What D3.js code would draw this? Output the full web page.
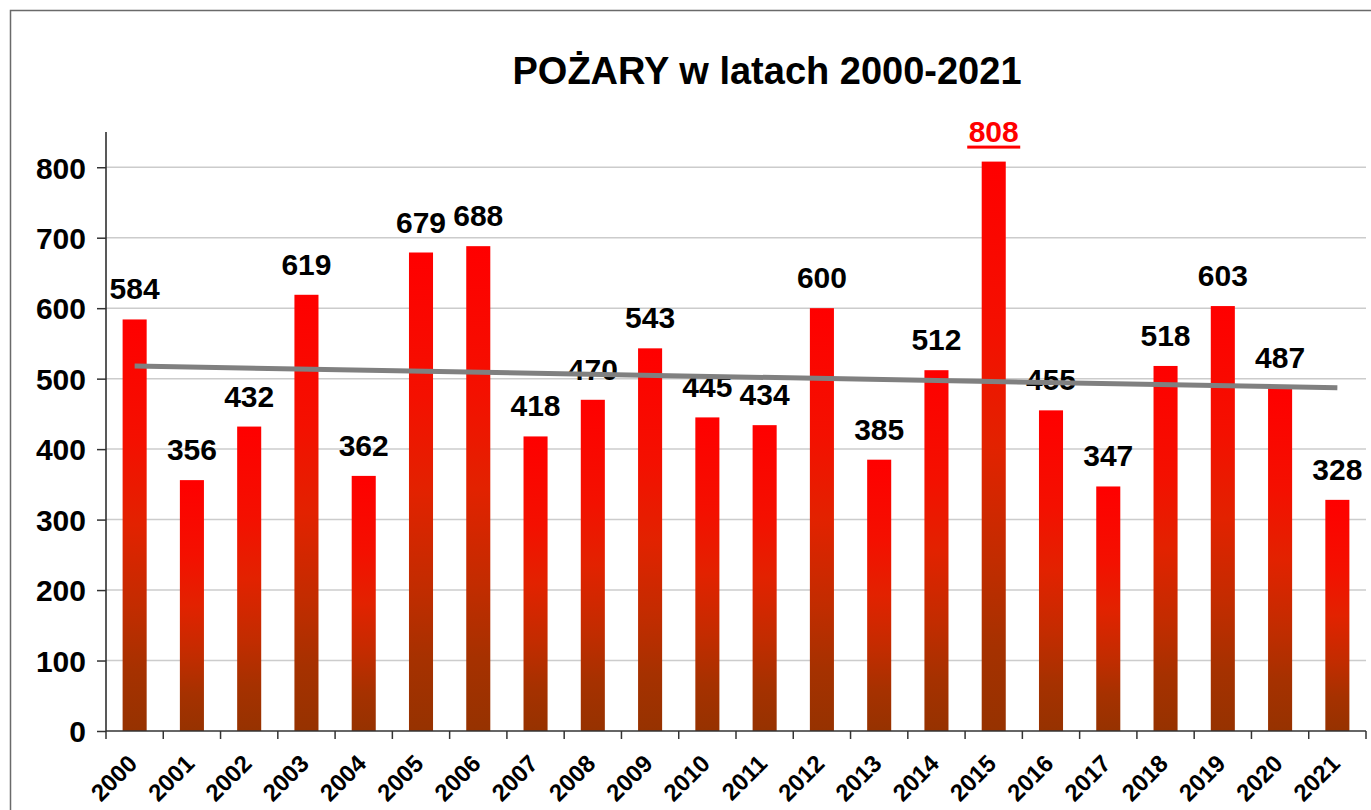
<!DOCTYPE html>
<html><head><meta charset="utf-8">
<script src="https://cdn.jsdelivr.net/npm/d3@7"></script>
<style>
html,body{margin:0;padding:0;background:#fff;}
svg{display:block;font-family:"Liberation Sans",Arial,sans-serif;}
</style></head>
<body>
<svg id="chart" width="1371" height="810"></svg>
<script>
const title = "POŻARY w latach 2000-2021";
const years = ["2000","2001","2002","2003","2004","2005","2006","2007","2008","2009","2010","2011","2012","2013","2014","2015","2016","2017","2018","2019","2020","2021"];
const fires = [584,356,432,619,362,679,688,418,470,543,445,434,600,385,512,808,455,347,518,603,487,328];
const yTicks = [0,100,200,300,400,500,600,700,800];
const yMax = 850;
const highlightYear = "2015";
const trendValues = [518, 487]; // trend line at first and last year

(function(){
const svg = d3.select("#chart");
const pLeft = 106, pRight = 1366, pTop = 132, pBottom = 731;

// frame
svg.append("rect").attr("x",10.5).attr("y",10.5).attr("width",1400).attr("height",900)
  .attr("fill","none").attr("stroke","#6a6a6a").attr("stroke-width",1.5);

const x = d3.scaleBand().domain(years).range([pLeft,pRight]).paddingInner(0.58).paddingOuter(0.29);
const y = d3.scaleLinear().domain([0,yMax]).range([pBottom,pTop]);

const defs = svg.append("defs");
const grad = defs.append("linearGradient").attr("id","barGrad").attr("x1",0).attr("y1",0).attr("x2",0).attr("y2",1);
[["0%","#ff0000"],["30%","#f41000"],["50%","#e22200"],["70%","#c22c00"],["85%","#a63100"],["100%","#963200"]]
  .forEach(s=>grad.append("stop").attr("offset",s[0]).attr("stop-color",s[1]));

// gridlines
svg.append("g").selectAll("line").data(yTicks.filter(t=>t>0)).join("line")
  .attr("x1",pLeft).attr("x2",pRight).attr("y1",d=>y(d)).attr("y2",d=>y(d))
  .attr("stroke","#cccccc").attr("stroke-width",1.5);

// bars
svg.append("g").selectAll("rect").data(fires).join("rect")
  .attr("x",(d,i)=>x(years[i])).attr("width",x.bandwidth())
  .attr("y",d=>y(d)).attr("height",d=>y(0)-y(d))
  .attr("fill","url(#barGrad)");

// y axis
const yAxis = d3.axisLeft(y).tickValues(yTicks).tickSize(9).tickPadding(11);
const gy = svg.append("g").attr("transform",`translate(${pLeft},0)`).call(yAxis);
gy.select(".domain").attr("stroke","#222").attr("stroke-width",1.5).attr("d",`M0,${pTop}V${pBottom}`);
gy.selectAll(".tick line").attr("stroke","#333").attr("stroke-width",1.5);
gy.selectAll(".tick text").attr("font-size",30).attr("font-weight","bold").attr("fill","#000")
  .attr("font-family","'Liberation Sans',Arial,sans-serif").attr("dy","0.36em");

// x axis (ticks between categories)
const step = x.step();
const gx = svg.append("g");
gx.append("line").attr("x1",pLeft).attr("x2",pRight).attr("y1",pBottom).attr("y2",pBottom)
  .attr("stroke","#333").attr("stroke-width",1.5);
gx.selectAll("line.tk").data(d3.range(years.length+1)).join("line").attr("class","tk")
  .attr("x1",i=>pLeft+i*step).attr("x2",i=>pLeft+i*step).attr("y1",pBottom).attr("y2",pBottom+8)
  .attr("stroke","#333").attr("stroke-width",1.5);
gx.selectAll("text").data(years).join("text")
  .attr("transform",d=>`translate(${x(d)+x.bandwidth()/2+4},${pBottom+34}) rotate(-45)`)
  .attr("text-anchor","end").attr("font-size",24).attr("font-weight","bold").attr("fill","#000")
  .text(d=>d);

// value labels
const labels = svg.append("g");
labels.selectAll("text").data(fires).join("text")
  .attr("x",(d,i)=>x(years[i])+x.bandwidth()/2)
  .attr("y",d=>y(d)-20)
  .attr("text-anchor","middle").attr("font-size",30).attr("font-weight","bold")
  .attr("fill",(d,i)=>years[i]===highlightYear?"#ff0000":"#000")
  .text(d=>d);
const hi = years.indexOf(highlightYear);
labels.append("rect")
  .attr("x",x(highlightYear)+x.bandwidth()/2-26.5).attr("width",53)
  .attr("y",y(fires[hi])-16).attr("height",3).attr("fill","#ff0000");

// trend line
const cx0 = x(years[0])+x.bandwidth()/2, cx1 = x(years[years.length-1])+x.bandwidth()/2;
svg.append("line").attr("x1",cx0).attr("x2",cx1).attr("y1",y(trendValues[0])).attr("y2",y(trendValues[1]))
  .attr("stroke","#808080").attr("stroke-width",5);

// title
svg.append("text").attr("x",767).attr("y",84).attr("text-anchor","middle")
  .attr("font-size",38).attr("font-weight","bold").attr("fill","#000").text(title);
})();
</script>
</body></html>
